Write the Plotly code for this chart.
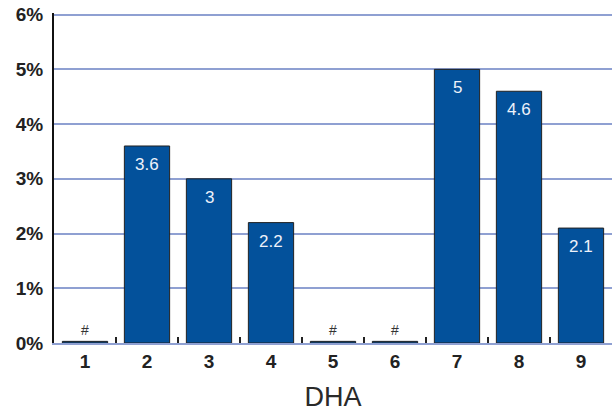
import plotly.graph_objects as go

categories = ["1", "2", "3", "4", "5", "6", "7", "8", "9"]
values = [0, 3.6, 3.0, 2.2, 0, 0, 5.0, 4.6, 2.1]
labels = ["#", "3.6", "3", "2.2", "#", "#", "5", "4.6", "2.1"]
y_ticks = [0, 1, 2, 3, 4, 5, 6]
y_ticklabels = ["0%", "1%", "2%", "3%", "4%", "5%", "6%"]

# missing values are drawn as a minimal stub so the outline stays visible
shown = [v if v > 0 else 0.03 for v in values]
bar_text = [t if v == 0 else "" for t, v in zip(labels, values)]

fig = go.Figure(go.Bar(
    x=categories, y=shown, text=bar_text, textposition="outside",
    marker=dict(color="#03519b", line=dict(color="#222222", width=1)),
    outsidetextfont=dict(family="Liberation Sans", size=14, color="#333333"),
    textangle=0, cliponaxis=False, hoverinfo="skip",
))

# value labels sit just inside the top of each bar (x = category position)
for i, (v, t) in enumerate(zip(values, labels)):
    if v > 0:
        fig.add_annotation(
            x=i, y=v, text=t, showarrow=False, yanchor="top", yshift=-7,
            font=dict(family="Liberation Sans", size=17, color="#eef2fa"),
        )

fig.update_layout(
    width=613, height=418,
    margin=dict(l=54, r=1, t=13, b=75),
    paper_bgcolor="white", plot_bgcolor="white",
    bargap=0.27, showlegend=False,
    font=dict(family="Liberation Sans", color="#222222"),
)
fig.update_xaxes(
    type="category", categoryarray=categories, categoryorder="array",
    range=[-0.5, len(categories) - 0.5],
    tickson="boundaries", ticks="inside", ticklen=6,
    tickwidth=2, tickcolor="#222222", automargin=False,
    tickfont=dict(family="Liberation Sans", size=19, color="#222222", weight="bold"),
    showgrid=False, showline=True, linecolor="#8fa0d2", linewidth=2,
    title=dict(text="DHA", font=dict(family="Liberation Sans", size=27, color="#2a2a2a"), standoff=16),
)
fig.update_yaxes(
    range=[0, 6.03], tickvals=y_ticks, ticktext=y_ticklabels, automargin=False,
    showgrid=True, gridcolor="#8fa0d2", gridwidth=2,
    zeroline=False,
    showline=True, linecolor="#111111", linewidth=2,
    ticks="", ticklabelstandoff=5, ticklabeloverflow="allow",
    tickfont=dict(family="Liberation Sans", size=19, color="#222222", weight="bold"),
)

# remove the browser's default page margin so the figure fills the window
fig.write_html("out.html", config={"displayModeBar": False},
               post_script="document.body.style.margin='0';")
